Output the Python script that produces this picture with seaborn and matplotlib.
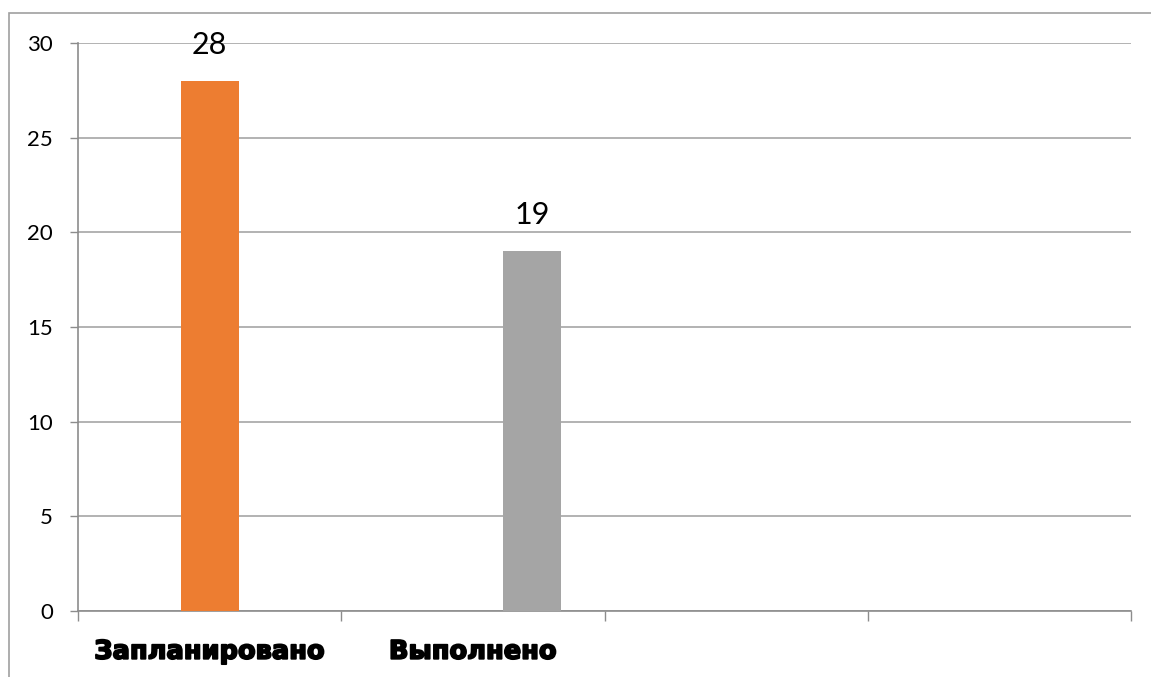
import matplotlib
matplotlib.use("Agg")
import matplotlib.pyplot as plt
import matplotlib.patches as mpatches
import matplotlib.patheffects as pe
import seaborn as sns

# data
categories = ["Запланировано", "Выполнено"]
values = [28, 19]
bar_colors = ["#ED7D31", "#A5A5A5"]
y_ticks = [0, 5, 10, 15, 20, 25, 30]

sns.set_style("white")
plt.rcParams['font.family'] = ['Lato', 'DejaVu Sans']
plt.rcParams['text.color'] = 'black'
plt.rcParams['xtick.color'] = 'black'
plt.rcParams['ytick.color'] = 'black'

fig = plt.figure(figsize=(11.51, 6.77), dpi=100)
ax = fig.add_axes([78 / 1151, 1 - 611 / 677, (1131 - 78) / 1151, (611 - 43) / 677])

sns.barplot(x=categories, y=values, hue=categories, palette=bar_colors,
            width=0.22, saturation=1, linewidth=0, legend=False, ax=ax, zorder=3)

# second bar sits a bit right of its slot centre in the original
bars = ax.patches
bars[1].set_x(bars[1].get_x() + 0.224)

ax.set_xlim(-0.5, 3.5)
ax.set_ylim(0, 30)
ax.set_yticks(y_ticks)
ax.set_yticklabels([str(t) for t in y_ticks], fontsize=16)
ax.yaxis.grid(True, color="#A6A6A6", linewidth=1.2, zorder=0)

# slot boundaries as major ticks, category names on minor ticks
ax.set_xticks([-0.5, 0.5, 1.5, 2.5, 3.5])
ax.set_xticklabels([])
ax.set_xticks([0, 1], minor=True)
labels = ax.set_xticklabels(categories, minor=True, fontsize=18.5,
                            fontweight="bold", family=["DejaVu Sans"])
for t in labels:
    t.set_path_effects([pe.withStroke(linewidth=1.3, foreground="black")])
ax.tick_params(axis="x", which="major", bottom=True, direction="out",
               length=7.5, color="#8C8C8C", width=1)
ax.tick_params(axis="x", which="minor", bottom=True, length=0, pad=20)
ax.tick_params(axis="y", left=True, direction="out", length=6,
               color="#8C8C8C", width=1, pad=12)

for side in ["top", "right"]:
    ax.spines[side].set_visible(False)
for side in ["left", "bottom"]:
    ax.spines[side].set_color("#8C8C8C")
    ax.spines[side].set_linewidth(1.2)

for b, v in zip(bars, values):
    ax.annotate(str(v), (b.get_x() + b.get_width() / 2, v),
                xytext=(0, 16), textcoords="offset points",
                ha="center", va="bottom", fontsize=22)

# outer chart frame
fig.patches.append(mpatches.Rectangle((9 / 1151, -0.1), 1.2, 1.1 - 13 / 677,
                                      transform=fig.transFigure, fill=False,
                                      edgecolor="#A0A0A0", linewidth=1.2))

fig.savefig("out.png", dpi=100)
